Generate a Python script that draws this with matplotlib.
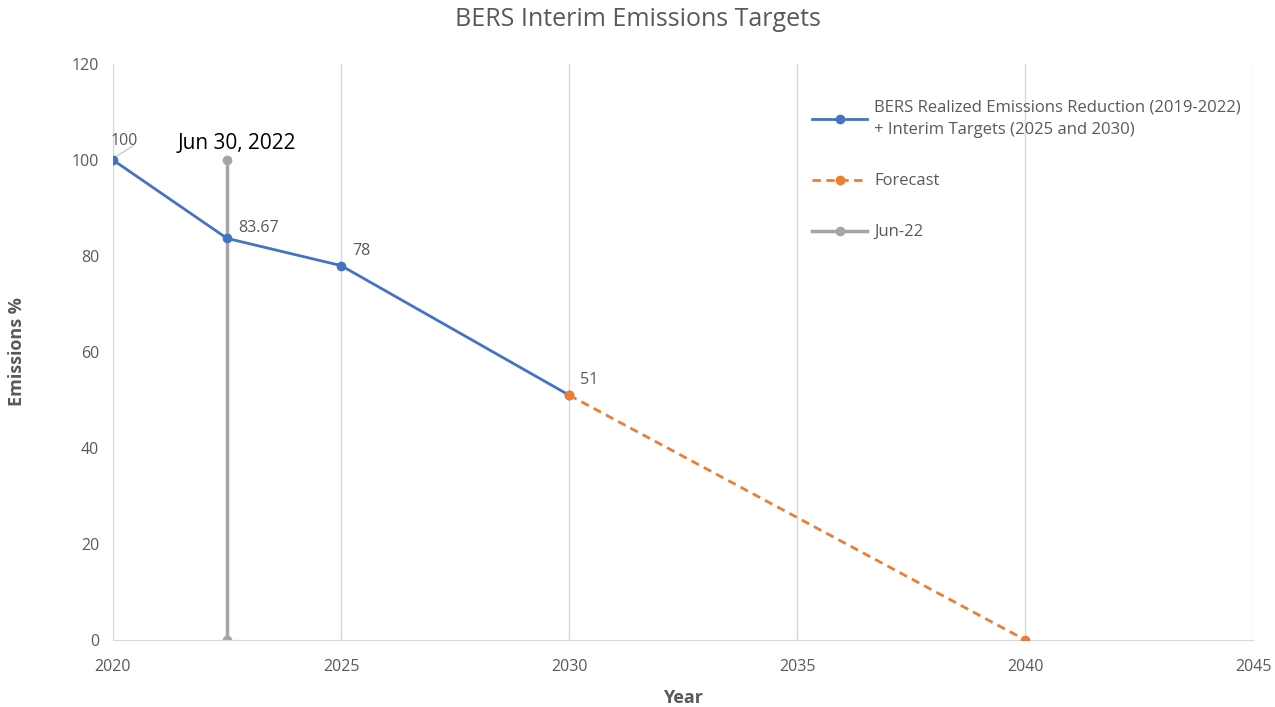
import matplotlib.pyplot as plt

plt.rcParams['font.family'] = ['Open Sans', 'DejaVu Sans']

# data
realized_years = [2020, 2022.5, 2025, 2030]
realized_vals = [100, 83.67, 78, 51]
forecast_years = [2030, 2040]
forecast_vals = [51, 0]
jun_years = [2022.5, 2022.5]
jun_vals = [0, 100]
point_labels = ['100', '83.67', '78', '51']

blue = '#4472C4'
orange = '#ED7D31'
gray = '#A5A5A5'
text_gray = '#595959'

fig = plt.figure(figsize=(12.75, 7.07), dpi=100)
ax = fig.add_axes([0.0886, 0.0948, 0.8945, 0.8147])

ax.plot(realized_years, realized_vals, color=blue, lw=2, marker='o', ms=6,
        label='BERS Realized Emissions Reduction (2019-2022)\n+ Interim Targets (2025 and 2030)', zorder=3)
ax.plot(forecast_years, forecast_vals, color=orange, lw=2, ls=(0, (3, 2)), marker='o', ms=6,
        label='Forecast', zorder=3)
ax.plot(jun_years, jun_vals, color=gray, lw=2.5, marker='o', ms=6, label='Jun-22', zorder=2)

# data labels
offsets = [(-2, 8), (8, 2), (8, 5), (8, 5)]
for x, y, t, off in zip(realized_years, realized_vals, point_labels, offsets):
    ax.annotate(t, (x, y), xytext=off, textcoords='offset points',
                fontsize=11.5, color=text_gray, ha='left', va='bottom')
ax.plot([2020.05, 2020.45], [100.6, 103], color='#BFBFBF', lw=0.8)
ax.annotate('Jun 30, 2022', (2022.5, 100), xytext=(7, 4), textcoords='offset points',
            fontsize=15, color='black', ha='center', va='bottom')

ax.set_xlim(2020, 2045)
ax.set_ylim(0, 120)
ax.set_xticks(range(2020, 2046, 5))
ax.set_yticks(range(0, 121, 20))
ax.grid(axis='x', color='#D9D9D9', lw=1)
ax.set_axisbelow(True)
for s in ['top', 'right']:
    ax.spines[s].set_visible(False)
for s in ['left', 'bottom']:
    ax.spines[s].set_color('#D9D9D9')
ax.tick_params(length=0, labelsize=11.5, colors=text_gray, pad=10)
ax.tick_params(axis='x', pad=14)

ax.set_xlabel('Year', fontsize=13, fontweight='bold', color=text_gray, labelpad=10)
ax.set_ylabel('Emissions %', fontsize=13, fontweight='bold', color=text_gray, labelpad=33)
fig.suptitle('BERS Interim Emissions Targets', fontsize=18, color=text_gray, y=0.99)

leg = ax.legend(loc='upper left', bbox_to_anchor=(0.6, 0.965), frameon=False,
                fontsize=12, labelspacing=2.1, handlelength=3.3, handletextpad=0.4,
                labelcolor=text_gray)
for t in leg.get_texts():
    t.set_linespacing(1.6)

fig.savefig('out.png', dpi=100)
